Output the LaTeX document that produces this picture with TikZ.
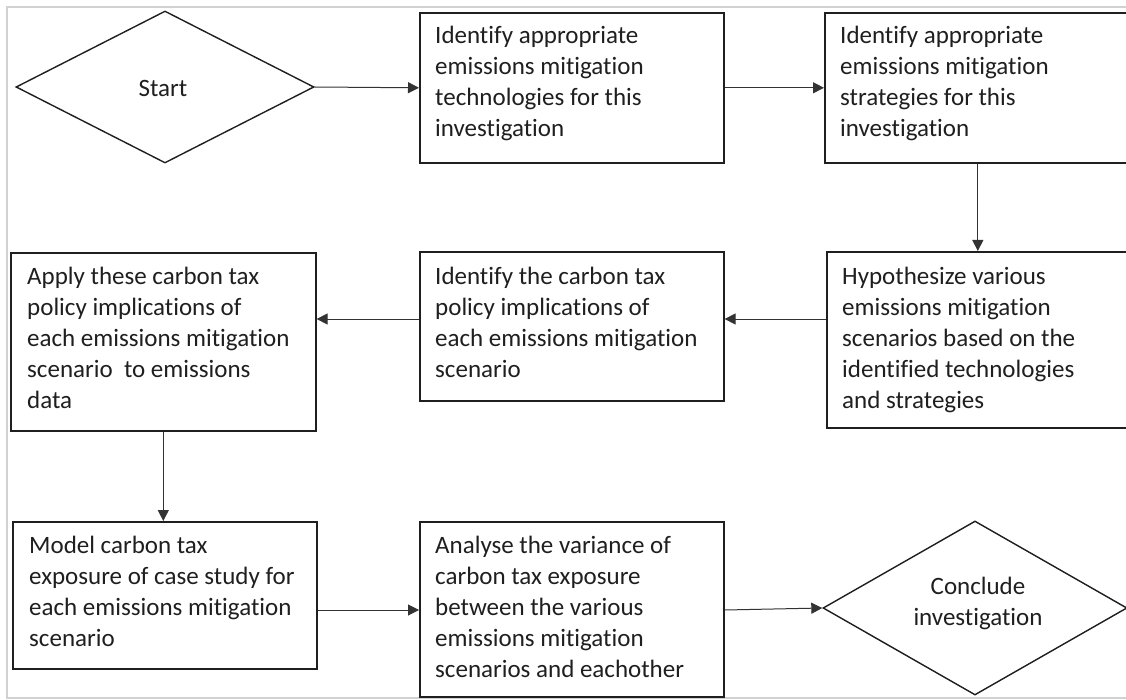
\documentclass[tikz,border=0pt]{standalone}
\usepackage{fontspec}
\setmainfont[RawFeature=-liga]{Carlito}
\usetikzlibrary{arrows.meta,shapes.geometric}
\begin{document}
\begin{tikzpicture}[x=1pt,y=-1pt,
  box/.style={draw=black!88,line width=1.6pt,anchor=north west,inner sep=0pt},
  diam/.style={draw=black!88,line width=1.4pt,diamond,inner sep=0pt},
  txt/.style={anchor=north west,align=left,inner sep=0pt,text=black!88,font=\fontsize{25}{31}\selectfont},
  ctxt/.style={align=center,inner sep=0pt,text=black!88,font=\fontsize{25}{31}\selectfont},
  arr/.style={draw=black!80,line width=1pt,-{Triangle[length=11pt,width=11pt]}}]
\path[use as bounding box] (0,0) rectangle (1126,700);
\clip (0,0) rectangle (1126,700);
\fill[white] (0,0) rectangle (1126,700);
\draw[draw=black!18,line width=2pt] (7,7) rectangle (1140,698);

% shapes
\node[diam,minimum width=298pt,minimum height=152pt] (start) at (165,87) {};
\node[ctxt] (starttxt) at (163,88) {Start};
\node[box,minimum width=304pt,minimum height=150pt] (b1) at (419,12) {};
\node[box,minimum width=306pt,minimum height=150pt] (b2) at (824,12) {};
\node[box,minimum width=304pt,minimum height=176pt] (b3) at (826,251) {};
\node[box,minimum width=304pt,minimum height=149pt] (b4) at (419,251) {};
\node[box,minimum width=305pt,minimum height=178pt] (b5) at (10,252) {};
\node[box,minimum width=304pt,minimum height=147pt] (b6) at (12,521) {};
\node[box,minimum width=304pt,minimum height=175pt] (b7) at (419,521) {};
\node[diam,minimum width=304pt,minimum height=174pt] (concl) at (975,608) {};
\node[ctxt] (concltxt) at (978,603) {Conclude\\investigation};

% texts
\node[txt] (t1) at (435,26) {Identify appropriate\\emissions mitigation\\technologies for this\\investigation};
\node[txt] (t2) at (840,26) {Identify appropriate\\emissions mitigation\\strategies for this\\investigation};
\node[txt] (t3) at (842,267) {Hypothesize various\\emissions mitigation\\scenarios based on the\\identified technologies\\and strategies};
\node[txt] (t4) at (435,267) {Identify the carbon tax\\policy implications of\\each emissions mitigation\\scenario};
\node[txt] (t5) at (27,267) {Apply these carbon tax\\policy implications of\\each emissions mitigation\\scenario\ \ to emissions\\data};
\node[txt] (t6) at (29,536) {Model carbon tax\\exposure of case study for\\each emissions mitigation\\scenario};
\node[txt] (t7) at (435,536) {Analyse the variance of\\carbon tax exposure\\between the various\\emissions mitigation\\scenarios and eachother};

% connector levels
\coordinate (ymid) at (0,319);
\coordinate (ylow) at (0,610);

% connectors
\draw[arr] (start.east) -- (b1.west);
\draw[arr] (b1.east) -- (b2.west);
\draw[arr] (b2.south) -- (b2.south |- b3.north);
\draw[arr] (b3.west |- ymid) -- (b4.east |- ymid);
\draw[arr] (b4.west |- ymid) -- (b5.east |- ymid);
\draw[arr] (b5.south) -- (b5.south |- b6.north);
\draw[arr] (b6.east |- ylow) -- (b7.west |- ylow);
\draw[arr] (b7.east |- ylow) -- (concl.west);
\end{tikzpicture}
\end{document}
